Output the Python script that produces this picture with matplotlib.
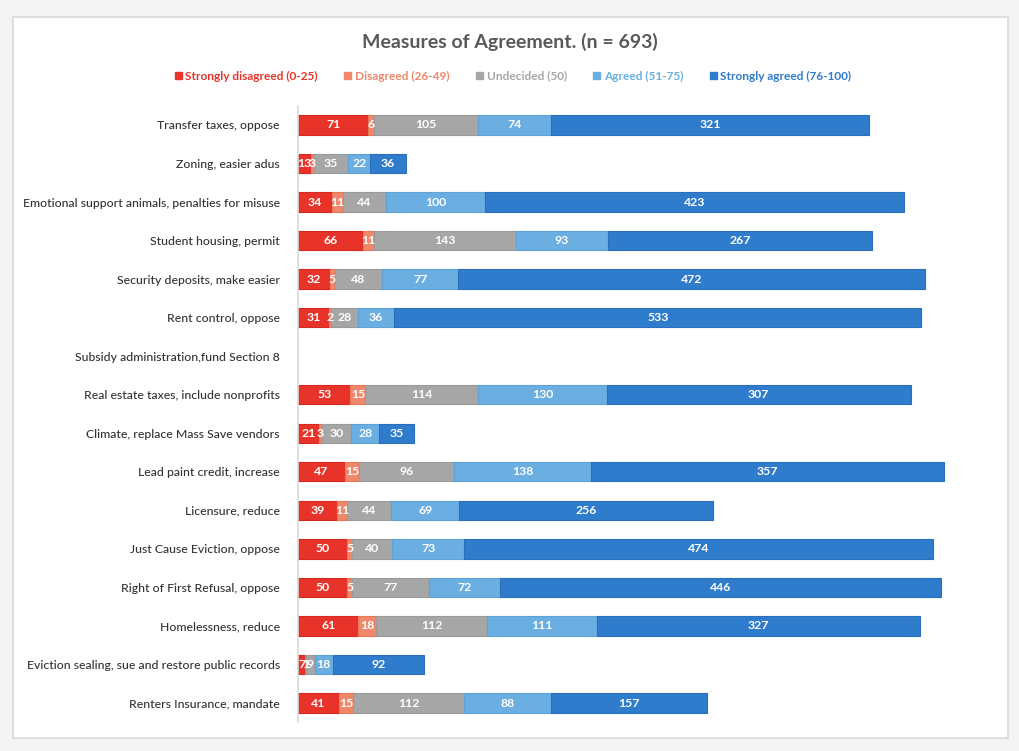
import matplotlib
matplotlib.use("Agg")
import matplotlib.pyplot as plt
from matplotlib.patches import Rectangle, Patch
import numpy as np

categories = [
    "Transfer taxes, oppose",
    "Zoning, easier adus",
    "Emotional support animals, penalties for misuse",
    "Student housing, permit",
    "Security deposits, make easier",
    "Rent control, oppose",
    "Subsidy administration,fund Section 8",
    "Real estate taxes, include nonprofits",
    "Climate, replace Mass Save vendors",
    "Lead paint credit, increase",
    "Licensure, reduce",
    "Just Cause Eviction, oppose",
    "Right of First Refusal, oppose",
    "Homelessness, reduce",
    "Eviction sealing, sue and restore public records",
    "Renters Insurance, mandate",
]
strongly_disagreed = [71, 13, 34, 66, 32, 31, 0, 53, 21, 47, 39, 50, 50, 61, 7, 41]
disagreed          = [6, 3, 11, 11, 5, 2, 0, 15, 3, 15, 11, 5, 5, 18, 1, 15]
undecided          = [105, 35, 44, 143, 48, 28, 0, 114, 30, 96, 44, 40, 77, 112, 9, 112]
agreed             = [74, 22, 100, 93, 77, 36, 0, 130, 28, 138, 69, 73, 72, 111, 18, 88]
strongly_agreed    = [321, 36, 423, 267, 472, 533, 0, 307, 35, 357, 256, 474, 446, 327, 92, 157]

series_names = ["Strongly disagreed (0-25)", "Disagreed (26-49)", "Undecided (50)",
                "Agreed (51-75)", "Strongly agreed (76-100)"]
series = [strongly_disagreed, disagreed, undecided, agreed, strongly_agreed]
colors = ["#e8332a", "#f0866a", "#a6a6a6", "#6aaee2", "#2f7bcc"]
edges = ["#d42a22", "#e87858", "#9a9a9a", "#5ea2d8", "#2a6fbc"]

plt.rcParams['font.family'] = ['Lato', 'DejaVu Sans']

fig = plt.figure(figsize=(10.2, 7.51), dpi=100)
fig.patch.set_facecolor("#f4f4f4")
bg = Rectangle((13/1020, 1-738/751), (1008-13)/1020, (738-17)/751,
               transform=fig.transFigure, facecolor="white",
               edgecolor="#d9d9d9", linewidth=1.2, zorder=-10)
fig.patches.append(bg)

ax = fig.add_axes([298/1020, 1-722.3/751, (961-298)/1020, (722.3-105.7)/751], zorder=5)
ax.set_facecolor("none")

y = np.arange(len(categories))
left = np.zeros(len(categories))
for name, vals, c, ec in zip(series_names, series, colors, edges):
    vals = np.array(vals, dtype=float)
    lw = [0.8 if v > 0 else 0 for v in vals]
    ax.barh(y, vals, left=left, height=0.5, color=c, edgecolor=ec,
            linewidth=lw, label=name)
    for yi, (l, v) in enumerate(zip(left, vals)):
        if v > 0:
            ax.text(l + v/2, yi, f"{int(v)}", ha="center", va="center",
                    color="white", fontsize=8.8, fontweight="bold")
    left += vals

ax.set_ylim(len(categories) - 0.5, -0.5)
ax.set_xlim(0, 670)
ax.set_yticks(y)
ax.set_yticklabels(categories, fontsize=8.8, color="#333333", fontweight="medium")
ax.tick_params(axis="y", length=0, pad=13)
ax.set_xticks([])
for s in ["top", "right", "bottom"]:
    ax.spines[s].set_visible(False)
ax.spines["left"].set_color("#d9d9d9")
ax.spines["left"].set_linewidth(1.2)

fig.text(510/1020, 1-42/751, "Measures of Agreement. (n = 693)", ha="center", va="center",
         fontsize=14, fontweight="bold", color="#595959")

handles = [Patch(facecolor=c, edgecolor=c) for c in colors]
leg = fig.legend(handles, series_names, loc="center", bbox_to_anchor=(513/1020, 1-76/751),
                 ncol=5, frameon=False, fontsize=8.6, handlelength=0.6, handleheight=0.6,
                 handletextpad=0.3, columnspacing=2.2, labelcolor=colors)
for t in leg.get_texts():
    t.set_fontweight("bold")

fig.savefig("out.png", dpi=100, facecolor=fig.get_facecolor())
